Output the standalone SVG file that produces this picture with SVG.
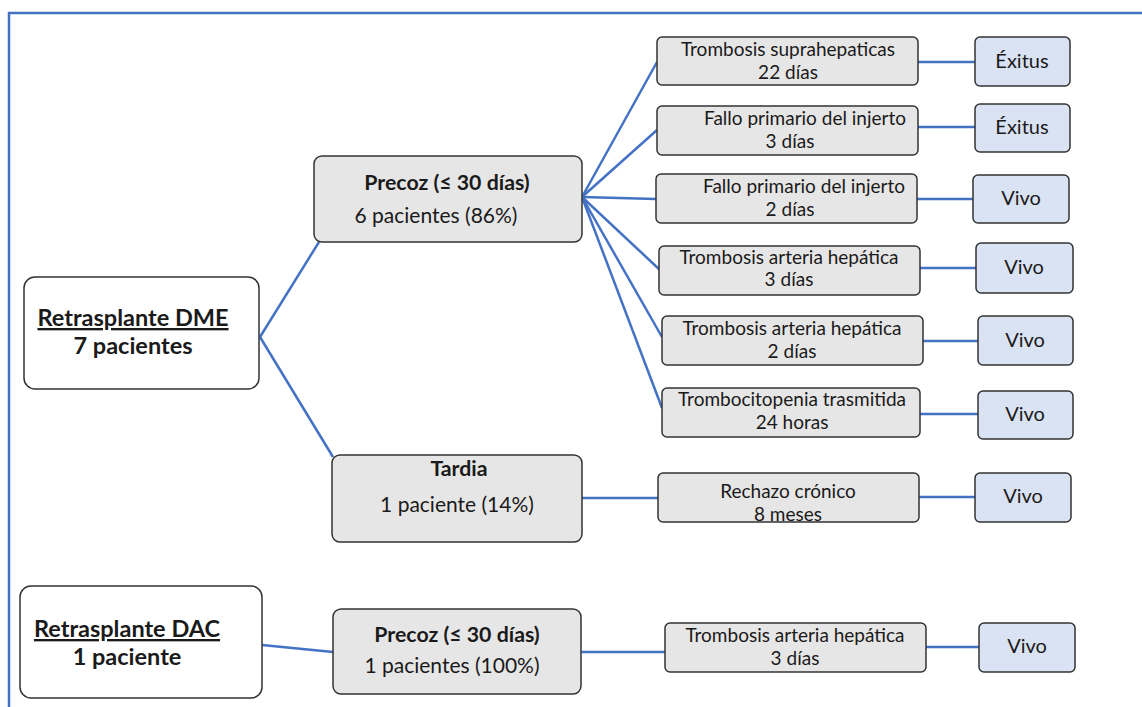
<svg xmlns="http://www.w3.org/2000/svg" width="1142" height="707" viewBox="0 0 1142 707">
  <style>
    .frame { fill: none; stroke: #4472c4; stroke-width: 2.5; }
    .link { fill: none; stroke: #4472c4; stroke-width: 2.5; }
    .root { fill: #ffffff; stroke: #333333; stroke-width: 1.5; }
    .stage { fill: #e7e6e6; stroke: #333333; stroke-width: 1.5; }
    .cause { fill: #e7e6e6; stroke: #333333; stroke-width: 1.5; }
    .outcome { fill: #dae3f3; stroke: #333333; stroke-width: 1.5; }
    text { font-family: Lato, "Open Sans", "Liberation Sans", sans-serif; fill: #1a1a1a; text-anchor: middle; }
    .big { font-size: 23.5px; font-weight: bold; }
    .ul { text-decoration: underline; }
    .sb { font-size: 21.3px; font-weight: bold; }
    .sn { font-size: 21px; }
    .c { font-size: 19px; }
    .o { font-size: 20px; }
  </style>

  <!-- outer frame -->
  <path class="frame" d="M9,707 V13 H1142"/>

  <!-- connectors -->
  <g id="connectors">
    <path class="link" d="M260,337 L319,242"/>
    <path class="link" d="M260,337 L333,457"/>
    <path class="link" d="M582,197 L657,62"/>
    <path class="link" d="M582,197 L657,130"/>
    <path class="link" d="M582,197 L656,199"/>
    <path class="link" d="M582,197 L660,270"/>
    <path class="link" d="M582,197 L662,337"/>
    <path class="link" d="M582,197 L662,408"/>
    <path class="link" d="M918,62 H975"/>
    <path class="link" d="M918,127 H975"/>
    <path class="link" d="M917,199 H973"/>
    <path class="link" d="M920,268 H976"/>
    <path class="link" d="M923,341 H978"/>
    <path class="link" d="M920,414 H978"/>
    <path class="link" d="M582,498 H658"/>
    <path class="link" d="M919,497 H975"/>
    <path class="link" d="M262,645 L333,652"/>
    <path class="link" d="M581,652 H665"/>
    <path class="link" d="M926,647 H979"/>
  </g>

  <!-- DME branch -->
  <g id="root-dme">
    <rect class="root" x="24" y="277" width="235" height="112" rx="11"/>
    <text class="big ul" x="133" y="326">Retrasplante DME</text>
    <text class="big" x="133" y="354">7 pacientes</text>
  </g>

  <g id="dme-precoz">
    <rect class="stage" x="314" y="156" width="268" height="86" rx="8"/>
    <text class="sb" x="447" y="190">Precoz (≤ 30 días)</text>
    <text class="sn" x="436" y="223">6 pacientes (86%)</text>
  </g>

  <g id="dme-tardia">
    <rect class="stage" x="332" y="455" width="250" height="87" rx="8"/>
    <text class="sb" x="459" y="476">Tardia</text>
    <text class="sn" x="457" y="512">1 paciente (14%)</text>
  </g>

  <g id="cause-1">
    <rect class="cause" x="657" y="37" width="261" height="48" rx="5"/>
    <text class="c" x="788" y="56">Trombosis suprahepaticas</text>
    <text class="c" x="788" y="79">22 días</text>
  </g>
  <g id="outcome-1">
    <rect class="outcome" x="975" y="37" width="95" height="49" rx="5"/>
    <text class="o" x="1022" y="68">Éxitus</text>
  </g>

  <g id="cause-2">
    <rect class="cause" x="657" y="106" width="261" height="49" rx="5"/>
    <text class="c" x="805" y="125">Fallo primario del injerto</text>
    <text class="c" x="790" y="148">3 días</text>
  </g>
  <g id="outcome-2">
    <rect class="outcome" x="975" y="104" width="95" height="48" rx="5"/>
    <text class="o" x="1022" y="134">Éxitus</text>
  </g>

  <g id="cause-3">
    <rect class="cause" x="656" y="174" width="261" height="49" rx="5"/>
    <text class="c" x="804" y="193">Fallo primario del injerto</text>
    <text class="c" x="790" y="216">2 días</text>
  </g>
  <g id="outcome-3">
    <rect class="outcome" x="973" y="175" width="96" height="48" rx="5"/>
    <text class="o" x="1021" y="205">Vivo</text>
  </g>

  <g id="cause-4">
    <rect class="cause" x="659" y="246" width="261" height="49" rx="5"/>
    <text class="c" x="789" y="264">Trombosis arteria hepática</text>
    <text class="c" x="789" y="286">3 días</text>
  </g>
  <g id="outcome-4">
    <rect class="outcome" x="976" y="243" width="97" height="50" rx="5"/>
    <text class="o" x="1024" y="274">Vivo</text>
  </g>

  <g id="cause-5">
    <rect class="cause" x="662" y="316" width="261" height="49" rx="5"/>
    <text class="c" x="792" y="335">Trombosis arteria hepática</text>
    <text class="c" x="792" y="358">2 días</text>
  </g>
  <g id="outcome-5">
    <rect class="outcome" x="978" y="316" width="95" height="49" rx="5"/>
    <text class="o" x="1025" y="347">Vivo</text>
  </g>

  <g id="cause-6">
    <rect class="cause" x="662" y="388" width="258" height="49" rx="5"/>
    <text class="c" x="792" y="406">Trombocitopenia trasmitida</text>
    <text class="c" x="792" y="429">24 horas</text>
  </g>
  <g id="outcome-6">
    <rect class="outcome" x="978" y="391" width="95" height="48" rx="5"/>
    <text class="o" x="1025" y="421">Vivo</text>
  </g>

  <g id="cause-7">
    <rect class="cause" x="658" y="473" width="261" height="49" rx="5"/>
    <text class="c" x="788" y="498">Rechazo crónico</text>
    <text class="c" x="788" y="521">8 meses</text>
  </g>
  <g id="outcome-7">
    <rect class="outcome" x="975" y="473" width="96" height="49" rx="5"/>
    <text class="o" x="1023" y="503">Vivo</text>
  </g>

  <!-- DAC branch -->
  <g id="root-dac">
    <rect class="root" x="20" y="586" width="242" height="112" rx="11"/>
    <text class="big ul" x="127" y="637">Retrasplante DAC</text>
    <text class="big" x="127" y="665">1 paciente</text>
  </g>

  <g id="dac-precoz">
    <rect class="stage" x="333" y="609" width="248" height="85" rx="8"/>
    <text class="sb" x="457" y="642">Precoz (≤ 30 días)</text>
    <text class="sn" x="452" y="673">1 pacientes (100%)</text>
  </g>

  <g id="cause-8">
    <rect class="cause" x="665" y="623" width="261" height="49" rx="5"/>
    <text class="c" x="795" y="642">Trombosis arteria hepática</text>
    <text class="c" x="795" y="665">3 días</text>
  </g>
  <g id="outcome-8">
    <rect class="outcome" x="979" y="623" width="96" height="49" rx="5"/>
    <text class="o" x="1027" y="653">Vivo</text>
  </g>
</svg>
